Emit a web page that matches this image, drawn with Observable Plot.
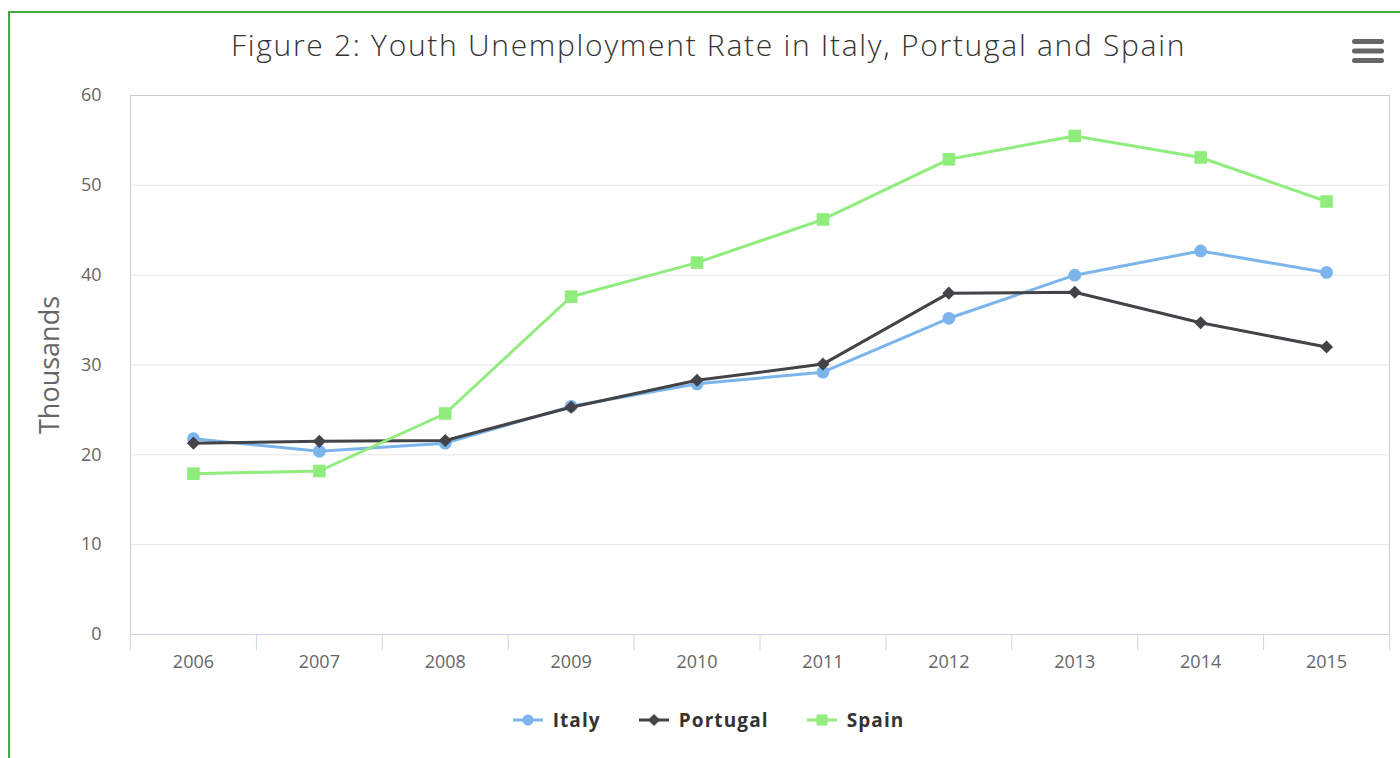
<!DOCTYPE html>
<html>
<head>
<meta charset="utf-8">
<script src="https://cdn.jsdelivr.net/npm/d3@7"></script>
<script src="https://cdn.jsdelivr.net/npm/@observablehq/plot@0.6"></script>
<style>
  html, body { margin: 0; padding: 0; background: #fff; }
  body { font-family: "Open Sans", "Noto Sans", sans-serif; width: 1400px; height: 758px; overflow: hidden; position: relative; }
  #border { position: absolute; left: 8px; top: 11px; width: 1400px; height: 760px; border-left: 2px solid #45a845; border-top: 2px solid #45a845; pointer-events: none; }
  #title { height: 80px; padding-left: 17px; box-sizing: border-box; text-align: center; font-size: 30px; font-weight: 300; letter-spacing: 1.7px; color: #333; line-height: 90px; white-space: nowrap; }
  #chart svg { display: block; }
  #legend { height: 68px; padding-left: 17px; box-sizing: border-box; display: flex; justify-content: center; align-items: center; gap: 38px; padding-bottom: 8px; }
  .item { display: flex; align-items: center; font-size: 19px; font-weight: 700; letter-spacing: 1.1px; color: #333; }
  .item svg { margin-right: 10px; }
  #menu { position: absolute; left: 1352px; top: 39px; }
</style>
</head>
<body>
<div id="border"></div>
<div id="title">Figure 2: Youth Unemployment Rate in Italy, Portugal and Spain</div>
<svg id="menu" width="32" height="25" viewBox="0 0 32 25">
  <rect x="0" y="0" width="32" height="5" rx="2.5" fill="#666"/>
  <rect x="0" y="9.5" width="32" height="5" rx="2.5" fill="#666"/>
  <rect x="0" y="19" width="32" height="5" rx="2.5" fill="#666"/>
</svg>
<div id="chart"></div>
<div id="legend"></div>
<script>
const years = [2006, 2007, 2008, 2009, 2010, 2011, 2012, 2013, 2014, 2015];
const italy    = [21.8, 20.4, 21.3, 25.4, 27.9, 29.2, 35.2, 40.0, 42.7, 40.3];
const portugal = [21.3, 21.5, 21.6, 25.3, 28.3, 30.1, 38.0, 38.1, 34.7, 32.0];
const spain    = [17.9, 18.2, 24.6, 37.6, 41.4, 46.2, 52.9, 55.5, 53.1, 48.2];
const countries = ["Italy", "Portugal", "Spain"];
const colors = ["#7cb5ec", "#434348", "#90ed7d"];
const symbols = ["circle", "diamond2", "square"];
const symbolR = [6.4, 5.9, 7.1];
const yTicks = [0, 10, 20, 30, 40, 50, 60];

const seriesValues = [italy, portugal, spain];
const data = countries.flatMap((c, i) => years.map((yr, j) => ({country: c, year: yr, value: seriesValues[i][j]})));
const bandEdges = d3.range(years.length + 1).map(i => years[0] - 0.5 + i);

const seriesMarks = countries.flatMap((c, i) => {
  const rows = data.filter(d => d.country === c);
  return [
    Plot.line(rows, {x: "year", y: "value", stroke: colors[i], strokeWidth: 3, strokeLinecap: "round", strokeLinejoin: "round"}),
    Plot.dot(rows, {x: "year", y: "value", fill: colors[i], stroke: "none", symbol: () => symbols[i], r: symbolR[i]})
  ];
});

const chart = Plot.plot({
  width: 1400,
  height: 610,
  marginLeft: 130,
  marginRight: 11,
  marginTop: 15,
  marginBottom: 56,
  style: {fontFamily: "'Open Sans', 'Noto Sans', sans-serif", background: "#fff", overflow: "visible"},
  x: {domain: [bandEdges[0], bandEdges[bandEdges.length - 1]], axis: null},
  y: {domain: [0, 60], axis: null},
  symbol: {type: "identity"},
  marks: [
    Plot.gridY(yTicks.slice(1), {stroke: "#e6e6e6", strokeOpacity: 1, strokeWidth: 1}),
    Plot.frame({stroke: "#cccccc", strokeWidth: 1}),
    Plot.ruleY([0], {stroke: "#ccd6eb", strokeWidth: 1}),
    Plot.axisX(bandEdges, {tickSize: 16, stroke: "#ccd6eb", tickFormat: () => "", label: null}),
    Plot.axisX(years, {tickSize: 0, tickPadding: 21, tickFormat: d => String(d), fontSize: 18, letterSpacing: 0.8, fill: "#666", label: null}),
    Plot.axisY(yTicks, {tickSize: 0, tickPadding: 29, fontSize: 18, fill: "#666", label: null}),
    Plot.text(["Thousands"], {frameAnchor: "left", dx: -80, rotate: -90, textAnchor: "middle", fontSize: 27, letterSpacing: 1.2, fill: "#666", text: d => d}),
    ...seriesMarks
  ]
});
document.getElementById("chart").appendChild(chart);

// Legend
const legend = document.getElementById("legend");
const sym = {
  circle: c => `<circle cx="15" cy="8" r="5.5" fill="${c}"/>`,
  diamond2: c => `<path d="M15 2 L21 8 L15 14 L9 8 Z" fill="${c}"/>`,
  square: c => `<rect x="9.5" y="2.5" width="11" height="11" fill="${c}"/>`
};
countries.forEach((c, i) => {
  const div = document.createElement("div");
  div.className = "item";
  div.innerHTML = `<svg width="30" height="16" viewBox="0 0 30 16"><line x1="0" y1="8" x2="30" y2="8" stroke="${colors[i]}" stroke-width="3"/>${sym[symbols[i]](colors[i])}</svg><span>${c}</span>`;
  legend.appendChild(div);
});
</script>
</body>
</html>
